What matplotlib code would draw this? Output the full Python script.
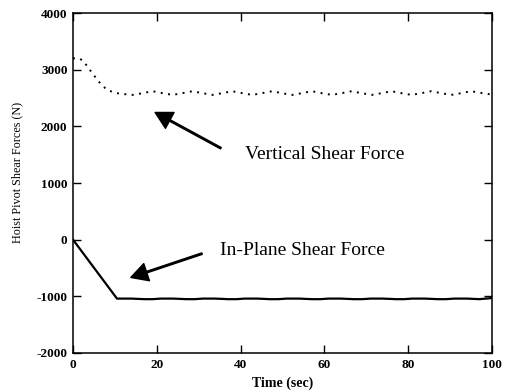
#!/usr/bin/env python
# -*- coding: utf-8 -*-

import matplotlib
matplotlib.use('Agg')
import matplotlib.pyplot as plt

# vertical shear force (dotted)
vert_time = [0, 1.5, 2.5, 3.5, 5, 6.5, 8, 10, 12, 14.3, 16.6, 19, 21.4, 23.8,
             26.1, 28.5, 30.9, 33.3, 35.6, 38, 40.4, 42.8, 45.1, 47.5, 49.9,
             52.3, 54.6, 57, 59.4, 61.8, 64.1, 66.5, 68.9, 71.3, 73.6, 76,
             78.4, 80.8, 83.1, 85.5, 87.9, 90.3, 92.6, 95, 97.4, 100]
vert_force = [3200, 3200, 3150, 3050, 2900, 2760, 2650, 2590, 2570, 2555, 2585,
              2620, 2585, 2555, 2585, 2620, 2585, 2555, 2585, 2620, 2585, 2555,
              2585, 2620, 2585, 2555, 2585, 2620, 2585, 2555, 2585, 2620, 2585,
              2555, 2585, 2620, 2585, 2555, 2585, 2620, 2585, 2555, 2585, 2620,
              2590, 2560]

# in-plane shear force (solid)
plane_time = [0, 10.5, 14, 17, 19, 21, 24, 27, 29, 31, 34, 37, 39, 41, 44, 47,
              49, 51, 54, 57, 59, 61, 64, 67, 69, 71, 74, 77, 79, 81, 84, 87,
              89, 91, 94, 97, 100]
plane_force = [0, -1040, -1040, -1050, -1050, -1040, -1040, -1050, -1050,
               -1040, -1040, -1050, -1050, -1040, -1040, -1050, -1050, -1040,
               -1040, -1050, -1050, -1040, -1040, -1050, -1050, -1040, -1040,
               -1050, -1050, -1040, -1040, -1050, -1050, -1040, -1040, -1050,
               -1030]

x_ticks = [0, 20, 40, 60, 80, 100]
y_ticks = [-2000, -1000, 0, 1000, 2000, 3000, 4000]

plt.rcParams['font.family'] = ['Liberation Serif', 'DejaVu Serif']
plt.rcParams['axes.unicode_minus'] = False

fig = plt.figure(figsize=(5.08, 3.92), dpi=100)
ax = fig.add_axes([0.1437, 0.0995, 0.8248, 0.8673])

ax.plot(vert_time, vert_force, color='black', linestyle=(0, (1, 2.8)),
        linewidth=1.4)
ax.plot(plane_time, plane_force, color='black', linestyle='-', linewidth=1.6)

ax.set_xlim(0, 100)
ax.set_ylim(-2000, 4000)
ax.set_xticks(x_ticks)
ax.set_yticks(y_ticks)
ax.tick_params(direction='in', length=6, width=1, top=True, right=True,
               labelsize=9.5, pad=4)
for lbl in ax.get_xticklabels() + ax.get_yticklabels():
    lbl.set_fontweight('bold')
for sp in ax.spines.values():
    sp.set_linewidth(1.1)

ax.set_xlabel('Time (sec)', fontsize=10, fontweight='bold', labelpad=4)
ax.set_ylabel('Hoist Pivot Shear Forces (N)', fontsize=8.7)
ax.yaxis.set_label_coords(-0.118, 0.532)

arrow = dict(facecolor='black', edgecolor='black', width=1.1,
             headwidth=13, headlength=12, shrink=0)
ax.annotate('', xy=(19.6, 2245), xytext=(35.3, 1614), arrowprops=arrow)
ax.annotate('', xy=(13.8, -667), xytext=(30.8, -246), arrowprops=arrow)

ax.text(41, 1421, 'Vertical Shear Force', fontsize=14, va='baseline')
ax.text(35.1, -263, 'In-Plane Shear Force', fontsize=14, va='baseline')

plt.savefig('out.png', dpi=100)
